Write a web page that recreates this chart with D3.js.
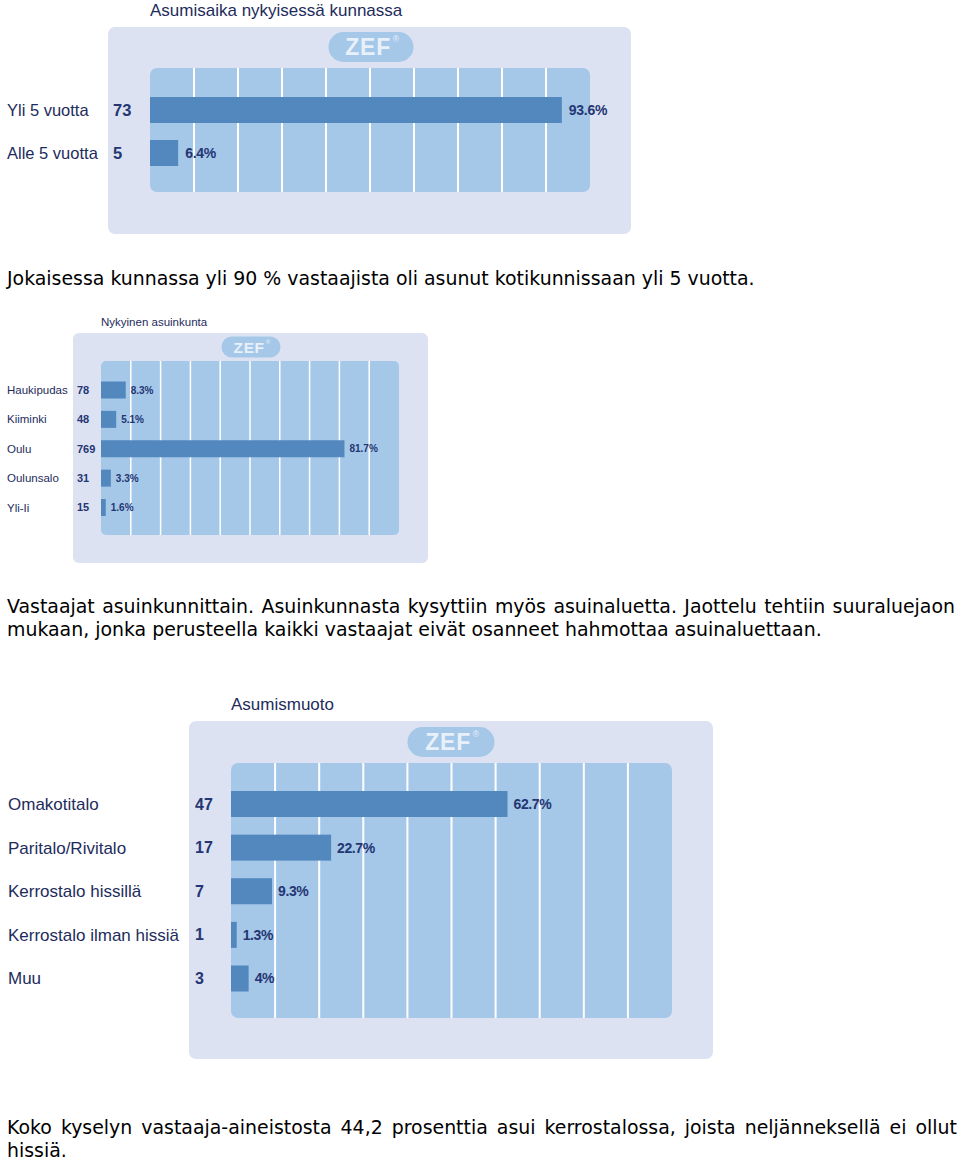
<!DOCTYPE html>
<html><head><meta charset="utf-8">
<script src="https://cdn.jsdelivr.net/npm/d3@7"></script>
<style>
html,body{margin:0;padding:0;background:#fff;}
svg{display:block;}
</style></head>
<body>
<svg id="c" width="960" height="1161"></svg>
<script>
// ---- data ----
const chart1Title = "Asumisaika nykyisessä kunnassa";
const chart1Categories = ["Yli 5 vuotta", "Alle 5 vuotta"];
const chart1Counts = [73, 5];
const chart1Percents = [93.6, 6.4];

const chart2Title = "Nykyinen asuinkunta";
const chart2Categories = ["Haukipudas", "Kiiminki", "Oulu", "Oulunsalo", "Yli-Ii"];
const chart2Counts = [78, 48, 769, 31, 15];
const chart2Percents = [8.3, 5.1, 81.7, 3.3, 1.6];

const chart3Title = "Asumismuoto";
const chart3Categories = ["Omakotitalo", "Paritalo/Rivitalo", "Kerrostalo hissillä", "Kerrostalo ilman hissiä", "Muu"];
const chart3Counts = [47, 17, 7, 1, 3];
const chart3Percents = [62.7, 22.7, 9.3, 1.3, 4];

const gridTicks = [10, 20, 30, 40, 50, 60, 70, 80, 90];

const paragraph1 = ["Jokaisessa kunnassa yli 90 % vastaajista oli asunut kotikunnissaan yli 5 vuotta."];
const paragraph2 = ["Vastaajat asuinkunnittain. Asuinkunnasta kysyttiin myös asuinaluetta. Jaottelu tehtiin suuraluejaon",
                    "mukaan, jonka perusteella kaikki vastaajat eivät osanneet hahmottaa asuinaluettaan."];
const paragraph3 = ["Koko kyselyn vastaaja-aineistosta 44,2 prosenttia asui kerrostalossa, joista neljänneksellä ei ollut",
                    "hissiä."];

// ---- layout / style ----
const svg = d3.select("#c");
const C = {
  outer: "#dce2f1", inner: "#a5c7e8", bar: "#5388bf", grid: "#ffffff",
  label: "#1e2c5c", num: "#243673", badgeText: "#e8f0fa", para: "#000000"
};
const SANS = "'Liberation Sans', Arial, sans-serif";

function drawChart(o) {
  const g = svg.append("g");
  g.append("text").attr("x", o.titleX).attr("y", o.titleY).attr("dy", "0.35em")
    .attr("font-family", SANS).attr("font-size", o.titleSize).attr("fill", C.label)
    .text(o.title);
  g.append("rect").attr("x", o.outer[0]).attr("y", o.outer[1]).attr("width", o.outer[2]).attr("height", o.outer[3])
    .attr("rx", o.outerR).attr("fill", C.outer);
  // badge
  const b = o.badge;
  g.append("rect").attr("x", b.cx - b.w / 2).attr("y", b.cy - b.h / 2).attr("width", b.w).attr("height", b.h)
    .attr("rx", b.h / 2).attr("fill", C.inner);
  g.append("text").attr("x", b.cx - b.fs * 0.12).attr("y", b.cy).attr("dy", "0.36em").attr("text-anchor", "middle")
    .attr("font-family", SANS).attr("font-weight", "bold").attr("font-size", b.fs).attr("fill", C.badgeText)
    .attr("letter-spacing", b.fs * 0.04)
    .text("ZEF");
  g.append("text").attr("x", b.cx + b.fs * 0.95).attr("y", b.cy - b.fs * 0.22)
    .attr("font-family", SANS).attr("font-size", b.fs * 0.38).attr("fill", C.badgeText).text("®");
  // inner panel
  const [ix, iy, iw, ih] = o.inner;
  g.append("rect").attr("x", ix).attr("y", iy).attr("width", iw).attr("height", ih).attr("rx", o.innerR).attr("fill", C.inner);
  const x = d3.scaleLinear().domain([0, 100]).range([ix, ix + iw]);
  g.selectAll(".grid").data(gridTicks).join("line")
    .attr("x1", d => x(d)).attr("x2", d => x(d)).attr("y1", iy).attr("y2", iy + ih)
    .attr("stroke", C.grid).attr("stroke-width", o.gridW);
  const y = d3.scalePoint().domain(o.categories).range(o.yRange);
  const rows = o.categories.map((c, i) => ({ c, n: o.counts[i], p: o.percents[i] }));
  g.selectAll(".bar").data(rows).join("rect")
    .attr("x", x(0)).attr("y", d => y(d.c) - o.barH / 2)
    .attr("width", d => x(d.p) - x(0)).attr("height", o.barH).attr("fill", C.bar);
  g.selectAll(".lab").data(rows).join("text")
    .attr("x", o.labelX).attr("y", d => y(d.c)).attr("dy", "0.35em")
    .attr("font-family", SANS).attr("font-size", o.labelSize).attr("fill", C.label).text(d => d.c);
  g.selectAll(".cnt").data(rows).join("text")
    .attr("x", o.countX).attr("y", d => y(d.c)).attr("dy", "0.35em")
    .attr("font-family", SANS).attr("font-weight", "bold").attr("font-size", o.countSize).attr("fill", C.num).text(d => d.n);
  g.selectAll(".pct").data(rows).join("text")
    .attr("x", d => x(d.p) + o.pctGap).attr("y", d => y(d.c)).attr("dy", "0.35em")
    .attr("font-family", SANS).attr("font-weight", "bold").attr("font-size", o.pctSize).attr("fill", C.num)
    .attr("letter-spacing", o.pctLS).text(d => d.p + "%");
}

drawChart({
  title: chart1Title, titleX: 150, titleY: 10, titleSize: 17,
  outer: [108, 27, 523, 207], outerR: 7,
  badge: { cx: 371, cy: 47, w: 85, h: 30, fs: 23 },
  inner: [150, 68, 440, 124], innerR: 7, gridW: 2,
  categories: chart1Categories, counts: chart1Counts, percents: chart1Percents,
  yRange: [110, 153], barH: 26,
  labelX: 7, labelSize: 16.5, countX: 113, countSize: 16.5, pctGap: 7, pctSize: 14, pctLS: -0.3
});
drawChart({
  title: chart2Title, titleX: 101, titleY: 322, titleSize: 11.5,
  outer: [73, 333, 355, 230], outerR: 6,
  badge: { cx: 251, cy: 347, w: 59, h: 21, fs: 15.5 },
  inner: [101, 361, 298, 174], innerR: 5, gridW: 1.5,
  categories: chart2Categories, counts: chart2Counts, percents: chart2Percents,
  yRange: [390, 507.5], barH: 17,
  labelX: 7, labelSize: 11.5, countX: 77, countSize: 11, pctGap: 5, pctSize: 10, pctLS: 0
});
drawChart({
  title: chart3Title, titleX: 231, titleY: 704, titleSize: 17,
  outer: [189, 721, 524, 338], outerR: 7,
  badge: { cx: 451, cy: 742, w: 87, h: 30, fs: 23 },
  inner: [231, 763, 441, 255], innerR: 7, gridW: 2,
  categories: chart3Categories, counts: chart3Counts, percents: chart3Percents,
  yRange: [804, 978.5], barH: 26,
  labelX: 8, labelSize: 17, countX: 195, countSize: 16, pctGap: 6, pctSize: 14, pctLS: -0.4
});

// ---- paragraphs ----
const PFONT = "'DejaVu Sans', Verdana, sans-serif";
// choose font size so that the first (non-justified) sentence has the reference width
const probe = svg.append("text").attr("font-family", PFONT).attr("font-size", 16).text(paragraph1[0]);
const PSIZE = 16 * 748 / probe.node().getComputedTextLength();
probe.remove();

function para(lines, baselines, widths, justifyFlags) {
  lines.forEach((ln, i) => {
    const t = svg.append("text").attr("x", 7).attr("y", baselines[i])
      .attr("font-family", PFONT).attr("font-size", PSIZE)
      .attr("fill", C.para).text(ln);
    const nat = t.node().getComputedTextLength();
    if (justifyFlags[i]) {
      const spaces = (ln.match(/ /g) || []).length;
      t.attr("word-spacing", (widths[i] - nat) / spaces);
    }
  });
}
para(paragraph1, [284.5], [748], [false]);
para(paragraph2, [612.5, 635.5], [948, 829], [true, false]);
para(paragraph3, [1134, 1157], [950, 58], [true, false]);
</script>
</body></html>
